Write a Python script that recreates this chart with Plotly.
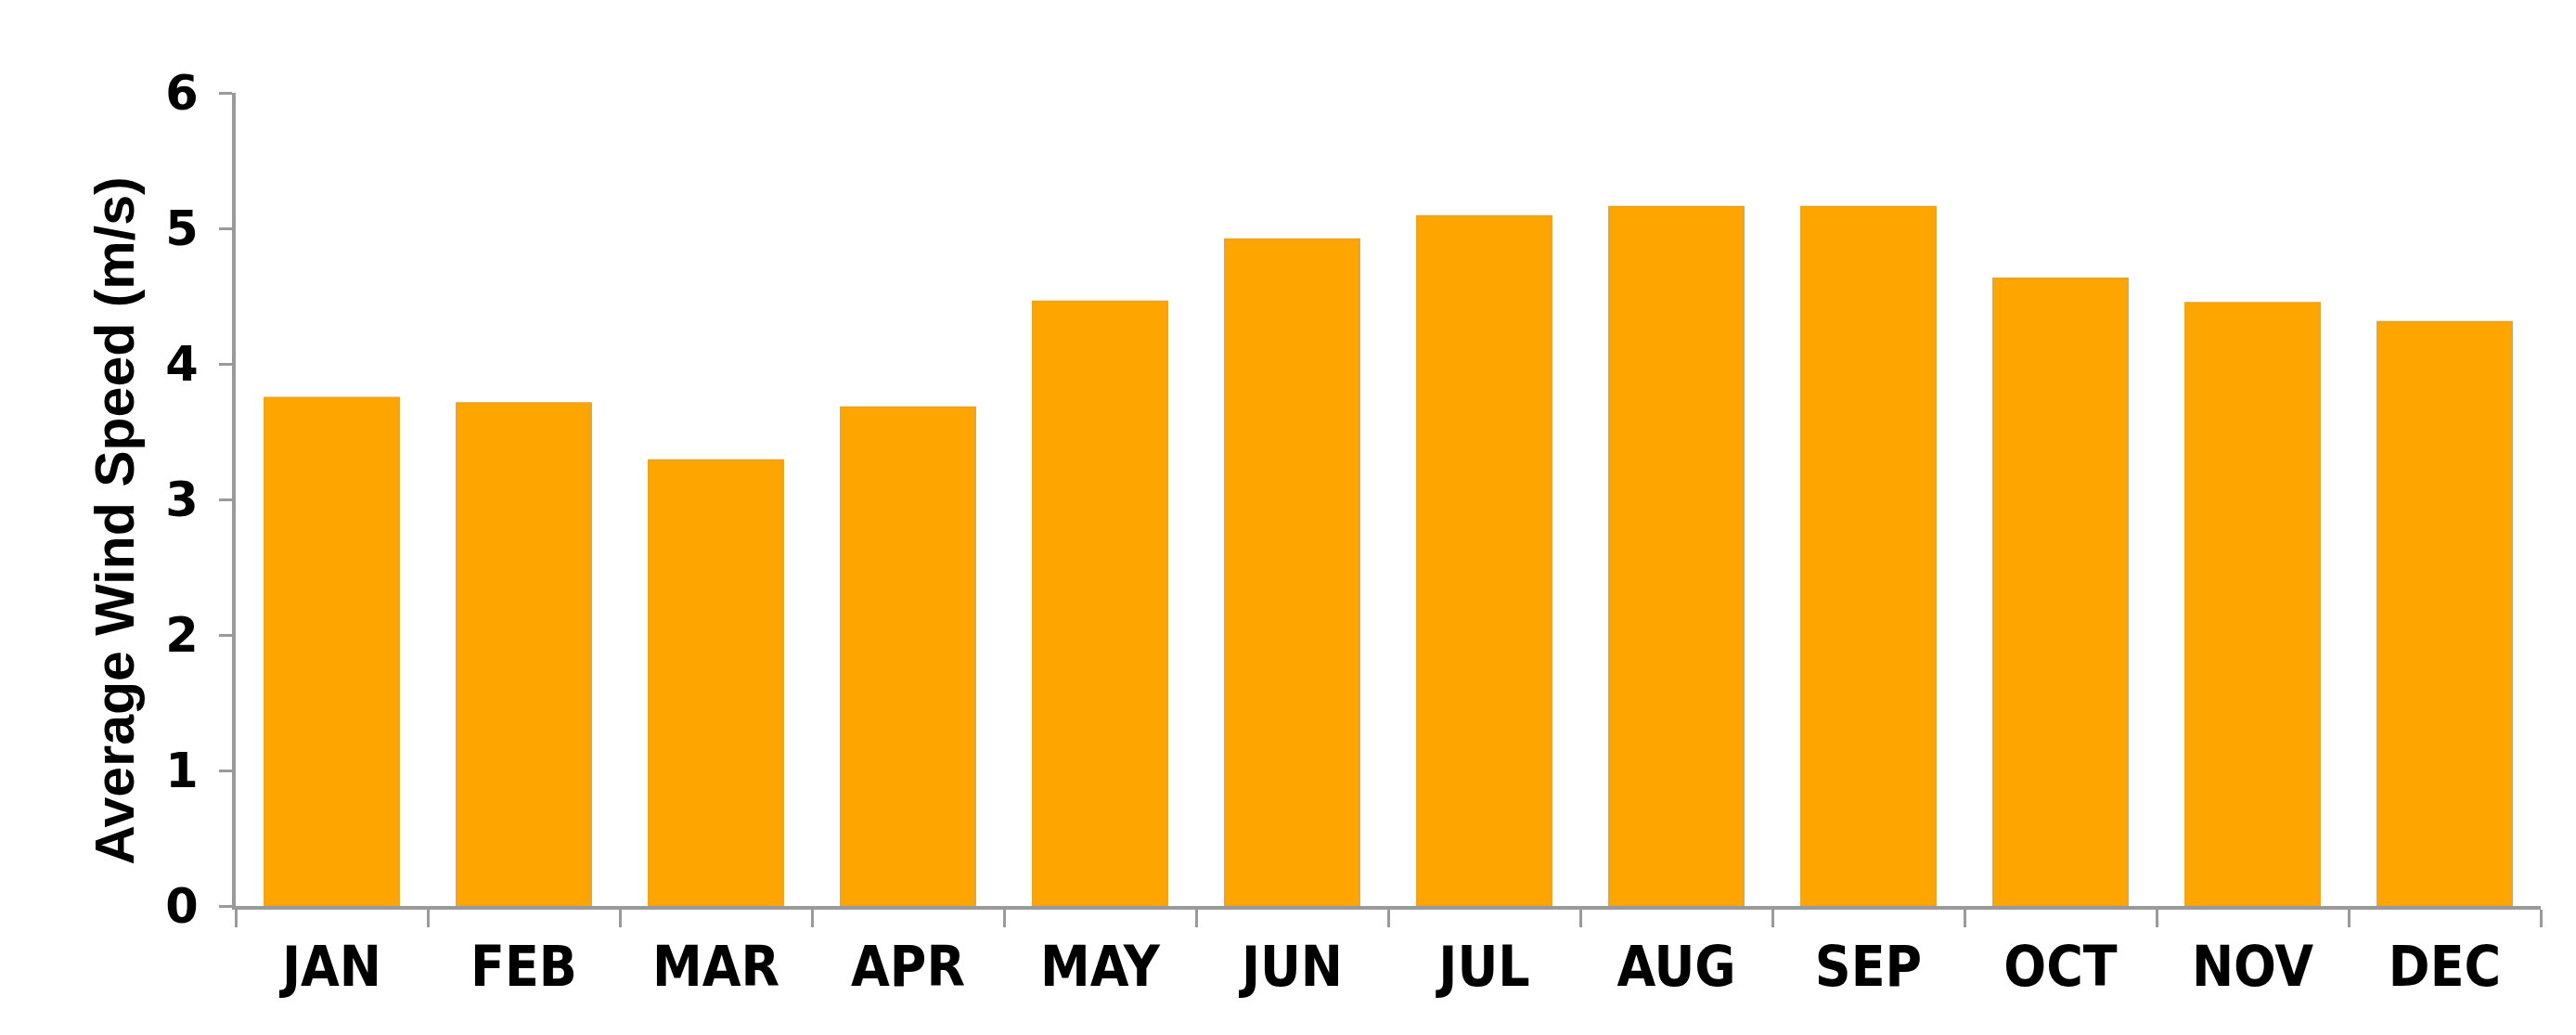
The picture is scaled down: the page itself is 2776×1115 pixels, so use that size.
import plotly.graph_objects as go

months = ["JAN", "FEB", "MAR", "APR", "MAY", "JUN", "JUL", "AUG", "SEP", "OCT", "NOV", "DEC"]
wind_speed = [3.75, 3.71, 3.29, 3.68, 4.46, 4.92, 5.09, 5.16, 5.16, 4.63, 4.45, 4.31]
y_ticks = [0, 1, 2, 3, 4, 5, 6]
y_title = "Average Wind Speed (m/s)"

fig = go.Figure(
    go.Bar(
        x=months,
        y=wind_speed,
        marker=dict(color="#FFA500", line=dict(color="#E9A426", width=2)),
    )
)

axis_grey = "#9a9a9a"
fig.update_layout(
    width=2776,
    height=1115,
    margin=dict(l=246, r=46, t=92, b=147),
    paper_bgcolor="white",
    plot_bgcolor="white",
    bargap=0.30,
    showlegend=False,
    xaxis=dict(
        showline=True,
        linecolor=axis_grey,
        linewidth=4,
        ticks="outside",
        tickson="boundaries",
        ticklen=19,
        tickwidth=3,
        tickcolor=axis_grey,
        showgrid=False,
        ticklabelstandoff=10,
        tickfont=dict(family="DejaVu Sans Condensed, Liberation Sans, Arial", size=60, color="black", weight="bold"),
    ),
    yaxis=dict(
        range=[0, 6],
        tickvals=y_ticks,
        showline=True,
        linecolor=axis_grey,
        linewidth=4,
        ticks="outside",
        ticklen=14,
        tickwidth=3,
        tickcolor=axis_grey,
        showgrid=False,
        zeroline=False,
        ticklabelstandoff=12,
        tickfont=dict(family="DejaVu Sans", size=51, color="black", weight="bold"),
    ),
    annotations=[
        dict(
            text=y_title,
            textangle=-90,
            xref="paper",
            yref="paper",
            x=-0.0523,
            y=0.474,
            xanchor="center",
            yanchor="middle",
            showarrow=False,
            font=dict(family="Liberation Sans, Arial", size=59, color="black", weight="bold"),
        )
    ],
)

fig.write_html("out.html")
